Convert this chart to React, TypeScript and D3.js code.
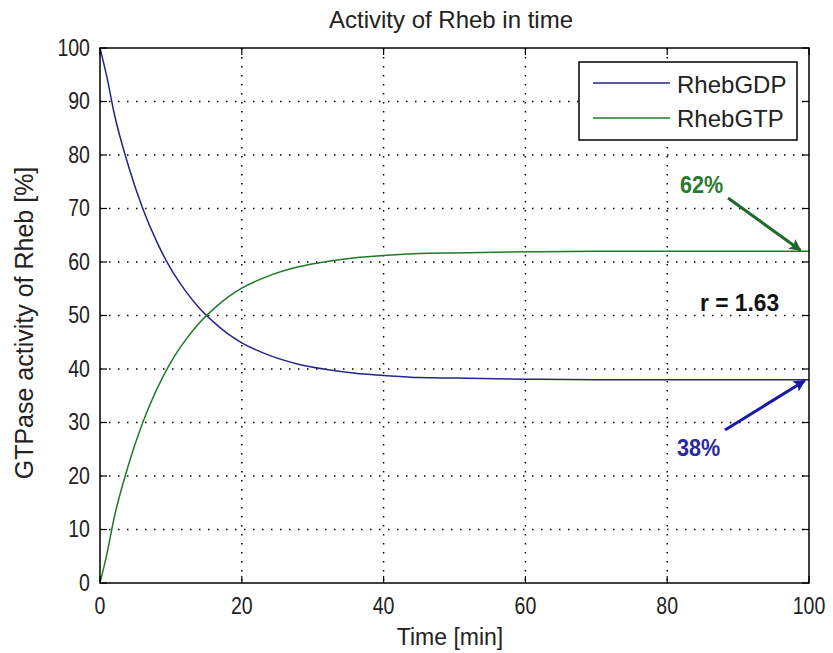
import * as d3 from "d3";

const time = [0, 1, 2, 4, 6, 8, 10, 12, 14, 16, 18, 20, 24, 28, 32, 36, 40, 45, 50, 60, 70, 80, 90, 100];
const rhebGDP = [100, 94.4, 87.8, 78.0, 70.1, 63.8, 58.7, 54.7, 51.4, 48.8, 46.6, 44.9, 42.5, 40.9, 39.9, 39.2, 38.8, 38.4, 38.3, 38.1, 38.0, 38.0, 38.0, 38.0];
const rhebGTP = [0, 5.6, 12.2, 22.0, 29.9, 36.2, 41.3, 45.3, 48.6, 51.2, 53.4, 55.1, 57.5, 59.1, 60.1, 60.8, 61.2, 61.6, 61.7, 61.9, 62.0, 62.0, 62.0, 62.0];
const xTicks = [0, 20, 40, 60, 80, 100];
const yTicks = [0, 10, 20, 30, 40, 50, 60, 70, 80, 90, 100];
const seriesNames = ["RhebGDP", "RhebGTP"];
const seriesColors = ["#24248a", "#1f7a2a"];

const W = 833;
const H = 653;
const M = { left: 100, right: 809, top: 48, bottom: 583 };
const FONT = "'Liberation Sans', Arial, sans-serif";

export default function App() {
  const x = d3.scaleLinear().domain([0, 100]).range([M.left, M.right]);
  const y = d3.scaleLinear().domain([0, 100]).range([M.bottom, M.top]);
  const line = d3
    .line<number>()
    .x((_, i) => x(time[i]))
    .y((d) => y(d))
    .curve(d3.curveMonotoneX);
  const series = [rhebGDP, rhebGTP];
  const tick = 7;
  const narrow = (cx: number, k = 0.9) => `translate(${cx},0) scale(${k},1) translate(${-cx},0)`;

  return (
    <svg width={W} height={H} style={{ position: "absolute", left: 0, top: 0, background: "#fff" }}>
      <defs>
        <marker id="arrG" viewBox="0 0 10 10" refX="9" refY="5" markerUnits="userSpaceOnUse" markerWidth="15" markerHeight="12" orient="auto">
          <path d="M0,0 L10,5 L0,10 L2,5 z" fill="#1f6a2a" />
        </marker>
        <marker id="arrB" viewBox="0 0 10 10" refX="9" refY="5" markerUnits="userSpaceOnUse" markerWidth="15" markerHeight="12" orient="auto">
          <path d="M0,0 L10,5 L0,10 L2,5 z" fill="#1a1aa8" />
        </marker>
      </defs>
      <rect x={0} y={0} width={W} height={H} fill="#fff" />

      {/* grid */}
      {xTicks.slice(1, -1).map((t) => (
        <line key={"gx" + t} x1={x(t)} x2={x(t)} y1={M.top} y2={M.bottom} stroke="#000" strokeWidth={1.5} strokeDasharray="1.5,7.5" />
      ))}
      {yTicks.slice(1, -1).map((t) => (
        <line key={"gy" + t} x1={M.left} x2={M.right} y1={y(t)} y2={y(t)} stroke="#000" strokeWidth={1.5} strokeDasharray="1.5,7.5" />
      ))}

      {/* curves */}
      {series.map((s, i) => (
        <path key={seriesNames[i]} d={line(s) || ""} fill="none" stroke={seriesColors[i]} strokeWidth={1.5} />
      ))}

      {/* box and ticks */}
      <rect x={M.left} y={M.top} width={M.right - M.left} height={M.bottom - M.top} fill="none" stroke="#000" strokeWidth={1.5} />
      {xTicks.map((t) => (
        <g key={"tx" + t}>
          <line x1={x(t)} x2={x(t)} y1={M.bottom} y2={M.bottom - tick} stroke="#000" strokeWidth={1.2} />
          <line x1={x(t)} x2={x(t)} y1={M.top} y2={M.top + tick} stroke="#000" strokeWidth={1.2} />
          <text x={x(t)} y={614} textAnchor="middle" fontFamily={FONT} fontSize={23} fill="#222" transform={narrow(x(t), 0.85)}>
            {t}
          </text>
        </g>
      ))}
      {yTicks.map((t) => (
        <g key={"ty" + t}>
          <line x1={M.left} x2={M.left + tick} y1={y(t)} y2={y(t)} stroke="#000" strokeWidth={1.2} />
          <line x1={M.right} x2={M.right - tick} y1={y(t)} y2={y(t)} stroke="#000" strokeWidth={1.2} />
          <text x={M.left - 10} y={y(t) + 8} textAnchor="end" fontFamily={FONT} fontSize={23} fill="#222" transform={narrow(M.left - 10, 0.85)}>
            {t}
          </text>
        </g>
      ))}

      {/* labels */}
      <text x={451} y={28} textAnchor="middle" fontFamily={FONT} fontSize={24} fill="#222">
        Activity of Rheb in time
      </text>
      <text x={450} y={645} textAnchor="middle" fontFamily={FONT} fontSize={23} fill="#222">
        Time [min]
      </text>
      <text transform={`translate(33, 323) rotate(-90)`} textAnchor="middle" fontFamily={FONT} fontSize={25} fill="#222">
        GTPase activity of Rheb [%]
      </text>

      {/* legend */}
      <rect x={579} y={62} width={218} height={78} fill="#fff" stroke="#000" strokeWidth={1.5} />
      {seriesNames.map((n, i) => (
        <g key={"lg" + n}>
          <line x1={593} x2={670} y1={83 + i * 35} y2={83 + i * 35} stroke={seriesColors[i]} strokeWidth={1.5} />
          <text x={677} y={93 + i * 34} fontFamily={FONT} fontSize={24} fill="#222">
            {n}
          </text>
        </g>
      ))}

      {/* annotations */}
      <text x={680} y={193} fontFamily={FONT} fontSize={24} fontWeight="bold" fill="#2a7a30" transform={narrow(680)}>
        62%
      </text>
      <line x1={728} y1={198} x2={x(98.8)} y2={y(rhebGTP[rhebGTP.length - 1]) - 1} stroke="#1f6a2a" strokeWidth={3} markerEnd="url(#arrG)" />
      <text x={700} y={311} fontFamily={FONT} fontSize={24} fontWeight="bold" fill="#111" transform={narrow(700, 0.95)}>
        r = 1.63
      </text>
      <text x={677} y={456} fontFamily={FONT} fontSize={24} fontWeight="bold" fill="#2a2a98" transform={narrow(677)}>
        38%
      </text>
      <line x1={725} y1={430} x2={x(99.4)} y2={y(rhebGDP[rhebGDP.length - 1]) + 1} stroke="#1a1aa8" strokeWidth={3} markerEnd="url(#arrB)" />
    </svg>
  );
}
